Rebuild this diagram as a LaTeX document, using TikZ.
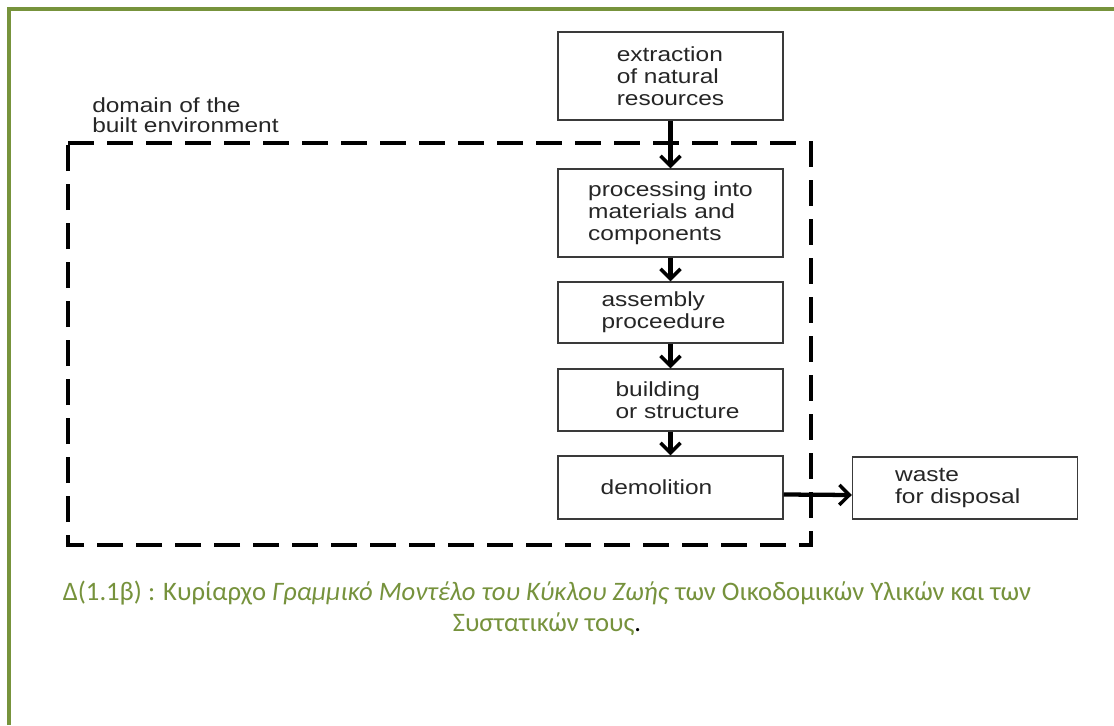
\documentclass[tikz,border=0pt]{standalone}
\usepackage{fontspec}
\setmainfont{Liberation Sans}
\newfontfamily\boxfont[FakeStretch=1.2]{Liberation Sans}
\newfontfamily\capfont{Carlito}
\usetikzlibrary{arrows.meta}
\definecolor{framegreen}{HTML}{77933C}
\definecolor{capgreen}{HTML}{76923C}
\definecolor{ink}{HTML}{262626}
\definecolor{boxline}{HTML}{3A3A3A}
\begin{document}
\begin{tikzpicture}[x=0.75pt,y=-0.75pt,
  box/.style={draw=boxline, line width=1.1pt, minimum width=168.75pt, inner sep=0pt,
    align=left, text=ink, font=\boxfont\fontsize{15.3pt}{16.5pt}\selectfont},
  arr/.style={line width=3.2pt, black, -{Straight Barb[length=7.5pt,width=15pt,line width=2.6pt]}},
  domainline/.style={line width=3pt, black, dash pattern=on 19.5pt off 9.75pt},
  frameline/.style={framegreen, line width=2.3pt}
]
\path[use as bounding box, fill=white] (0,0) rectangle (1114,725);
\draw[frameline] (9,725) -- (9,9) -- (1114,9);

\draw[domainline] (68,143) -- (811,143) -- (811,545) -- (68,545) -- cycle;

\node[box, minimum height=66pt] (ext) at (670.5,76) {extraction\\of natural\\resources};
\node[box, minimum height=66pt] (proc) at (670.5,213) {processing into\\materials and\\components};
\node[box, minimum height=45.75pt] (asm) at (670.5,312.5) {assembly\\proceedure\hspace*{10.5pt}};
\node[box, minimum height=46.5pt] (bld) at (670.5,400) {\hspace*{10.5pt}building\\\hspace*{10.5pt}or structure};
\node[box, minimum height=47.25pt] (dem) at (670.5,487.5) {demolition\hspace*{21pt}};
\node[box, minimum height=46.5pt] (waste) at (965,488) {waste\\for disposal\hspace*{11pt}};

\node[align=left, anchor=west, inner sep=0pt, text=ink,
  font=\boxfont\fontsize{15.3pt}{15pt}\selectfont] (domlabel) at (92,115) {domain of the\\built environment};

\draw[arr] (ext) -- (proc);
\draw[arr] (proc) -- (asm);
\draw[arr] (asm) -- (bld);
\draw[arr] (bld) -- (dem);
\draw[arr] ([yshift=-5.25pt]dem.east) -- ([yshift=-5.25pt]waste.west);

\node[align=center, text=capgreen, inner sep=0pt,
  font=\capfont\fontsize{20pt}{23.25pt}\selectfont] (caption) at (547,608)
  {Δ(1.1β) : Κυρίαρχο \textit{Γραμμικό Μοντέλο του Κύκλου Ζωής} των Οικοδομικών Υλικών και των\\Συστατικών τους{\color{black}.}};
\end{tikzpicture}
\end{document}
